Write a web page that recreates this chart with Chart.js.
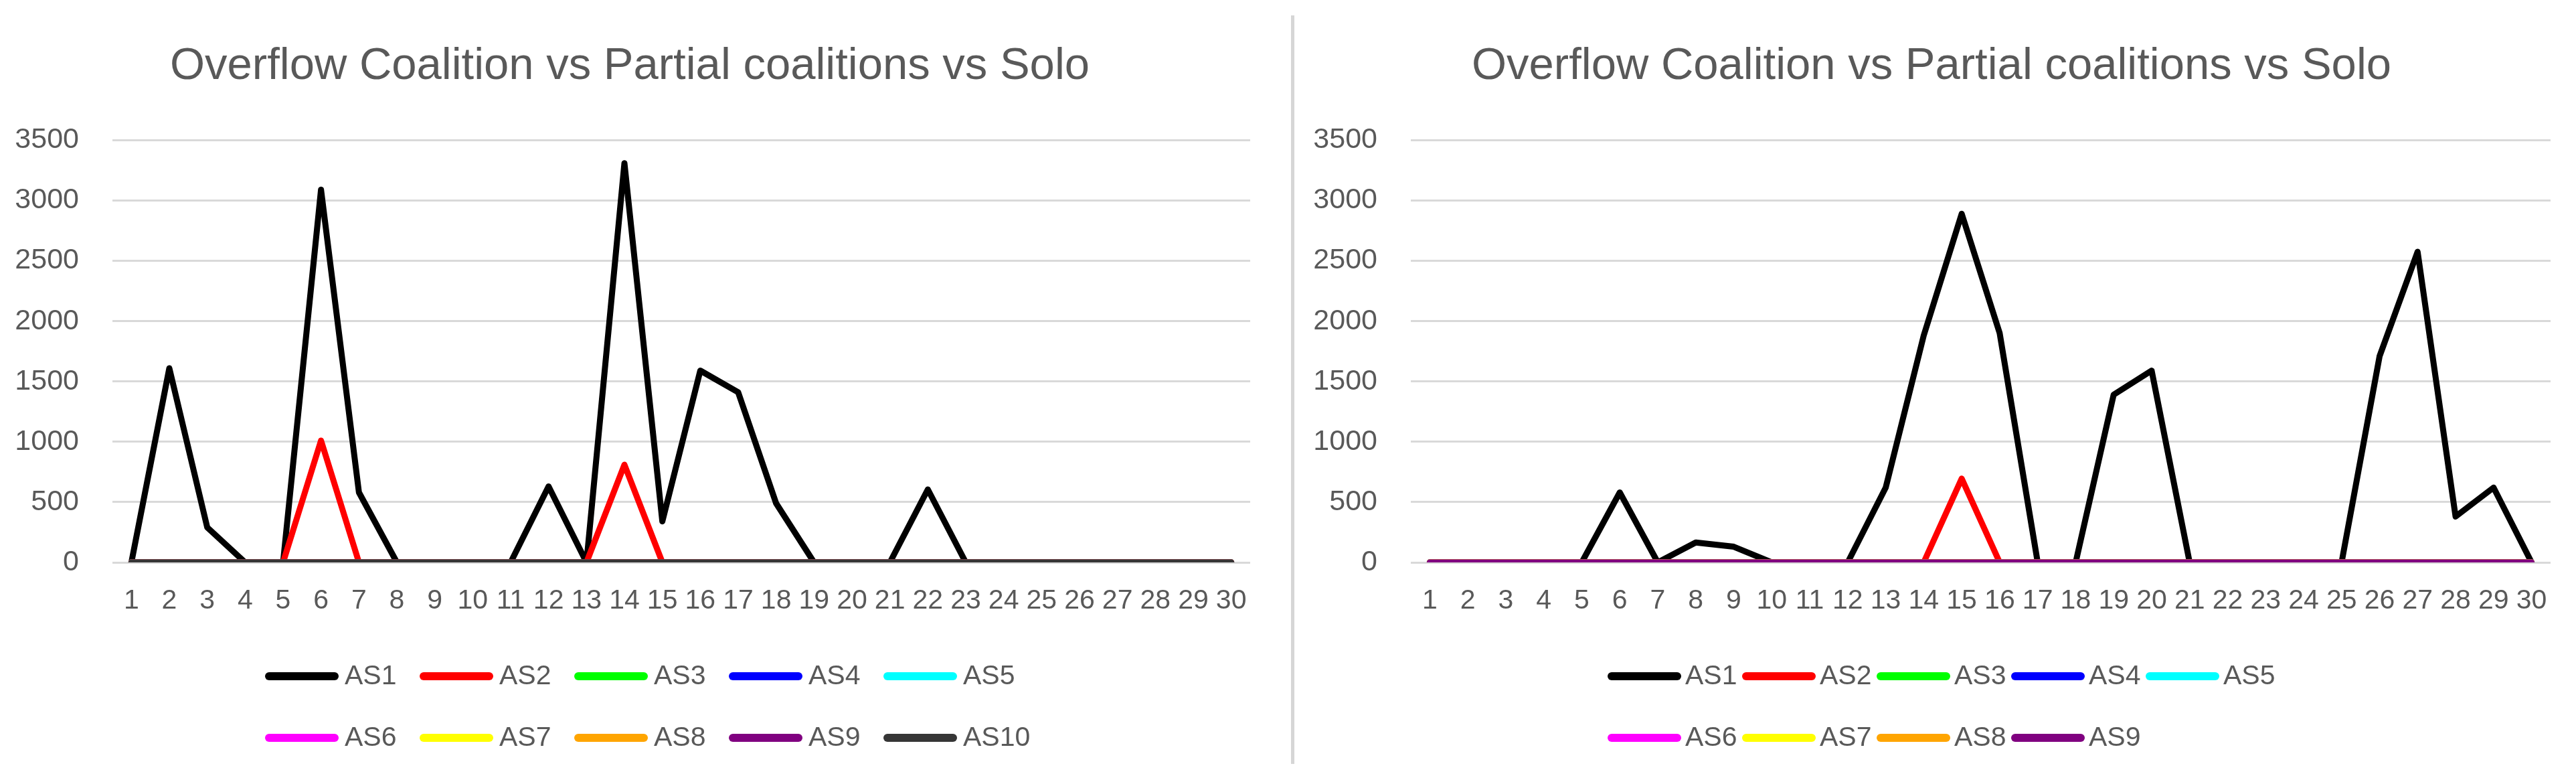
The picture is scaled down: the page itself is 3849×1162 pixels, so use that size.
<!DOCTYPE html>
<html>
<head>
<meta charset="utf-8">
<title>Overflow Coalition vs Partial coalitions vs Solo</title>
<script src="https://cdn.jsdelivr.net/npm/chart.js@4.4.1/dist/chart.umd.min.js"></script>
<style>
    html, body { margin: 0; padding: 0; background: #ffffff; }
    body { width: 3849px; height: 1162px; position: relative; overflow: hidden; }
    canvas { position: absolute; top: 0; }
    #left-chart { left: 0; }
    #right-chart { left: 1937px; }
    .divider { position: absolute; left: 1929px; top: 23px; width: 5px; height: 1118px; background: #d6d6d6; }
</style>
</head>
<body>
<canvas id="left-chart" width="1925" height="1162"></canvas>
<div class="divider"></div>
<canvas id="right-chart" width="1912" height="1162"></canvas>
<script>
// Categories (x axis) and y ticks
const periods = ['1', '2', '3', '4', '5', '6', '7', '8', '9', '10',
    '11', '12', '13', '14', '15', '16', '17', '18', '19', '20',
    '21', '22', '23', '24', '25', '26', '27', '28', '29', '30'];
const yTickValues = [0, 500, 1000, 1500, 2000, 2500, 3000, 3500];

const seriesNames = ['AS1', 'AS2', 'AS3', 'AS4', 'AS5', 'AS6', 'AS7', 'AS8', 'AS9', 'AS10'];
const seriesColors = ['#000000', '#ff0000', '#00ff00', '#0000ff', '#00ffff',
    '#ff00ff', '#ffff00', '#ffa500', '#800080', '#363636'];

const chartTitle = 'Overflow Coalition vs Partial coalitions vs Solo';

// Series that stay flat on the axis all the way across
const zeroSeries = [0, 0, 0, 0, 0, 0, 0, 0, 0, 0, 0, 0, 0, 0, 0, 0, 0, 0, 0, 0, 0, 0, 0, 0, 0, 0, 0, 0, 0, 0];

// Left chart (10 series)
const leftAS1 = [0, 1610, 290, 0, 0, 3090, 580, 0, 0, 0, 0, 630, 0, 3310, 340, 1590, 1410, 490, 0, 0, 0, 605, 0, 0, 0, 0, 0, 0, 0, 0];
const leftAS2 = [0, 0, 0, 0, 0, 1010, 0, 0, 0, 0, 0, 0, 0, 810, 0, 0, 0, 0, 0, 0, 0, 0, 0, 0, 0, 0, 0, 0, 0, 0];

// Right chart (9 series)
const rightAS1 = [0, 0, 0, 0, 0, 580, 0, 165, 130, 0, 0, 0, 620, 1880, 2890, 1900, 0, 0, 1390, 1590, 0, 0, 0, 0, 0, 1710, 2575, 380, 620, 0];
const rightAS2 = [0, 0, 0, 0, 0, 0, 0, 0, 0, 0, 0, 0, 0, 0, 695, 0, 0, 0, 0, 0, 0, 0, 0, 0, 0, 0, 0, 0, 0, 0];

const FONT = "'Liberation Sans', Arial, sans-serif";
const TEXT_COLOR = '#595959';

// Excel-style legend: rows of line swatch + label, second row lined up under the first
const rowLegend = {
    id: 'rowLegend',
    afterDraw(chart, args, opts) {
        const ctx = chart.ctx;
        ctx.save();
        ctx.font = `${opts.fontSize}px ${FONT}`;
        ctx.fillStyle = TEXT_COLOR;
        ctx.textBaseline = 'middle';
        ctx.textAlign = 'left';
        ctx.lineCap = 'round';
        chart.data.datasets.forEach((ds, i) => {
            const row = Math.floor(i / opts.perRow);
            const col = i % opts.perRow;
            const x = opts.startX + col * opts.stride;
            const y = opts.rowY[row];
            const cap = opts.swatchWidth / 2;
            ctx.strokeStyle = ds.borderColor;
            ctx.lineWidth = opts.swatchWidth;
            ctx.beginPath();
            ctx.moveTo(x + cap, y);
            ctx.lineTo(x + opts.swatchLen - cap, y);
            ctx.stroke();
            ctx.fillText(ds.label, x + opts.swatchLen + opts.gap, y + 1);
        });
        ctx.restore();
    }
};

function buildDatasets(seriesData) {
    const n = seriesData.length;
    return seriesData.map((values, i) => ({
        label: seriesNames[i],
        data: values,
        borderColor: seriesColors[i],
        backgroundColor: seriesColors[i],
        borderWidth: 9,
        borderCapStyle: 'round',
        borderJoinStyle: 'round',
        pointRadius: 0,
        pointHoverRadius: 0,
        tension: 0,
        fill: false,
        // later series are painted on top, like Excel
        order: n - i
    }));
}

function makeChart(canvasId, seriesData, layoutCfg, legendCfg) {
    const ctx = document.getElementById(canvasId).getContext('2d');
    return new Chart(ctx, {
        type: 'line',
        data: {
            labels: periods,
            datasets: buildDatasets(seriesData)
        },
        plugins: [rowLegend],
        options: {
            responsive: false,
            animation: false,
            devicePixelRatio: 1,
            events: [],
            layout: {
                padding: { left: layoutCfg.padLeft, right: layoutCfg.padRight, top: 0, bottom: 192 }
            },
            plugins: {
                legend: { display: false },
                tooltip: { enabled: false },
                title: {
                    display: true,
                    text: chartTitle,
                    color: TEXT_COLOR,
                    font: { family: FONT, size: 67, weight: 'normal', lineHeight: 1.2 },
                    padding: { top: 59, bottom: 70 }
                },
                rowLegend: legendCfg
            },
            scales: {
                x: {
                    type: 'category',
                    offset: true,
                    grid: { display: false, drawTicks: false },
                    border: { display: false },
                    ticks: {
                        color: TEXT_COLOR,
                        font: { family: FONT, size: 41 },
                        padding: 33,
                        autoSkip: false,
                        maxRotation: 0,
                        minRotation: 0
                    },
                    afterFit(scale) { scale.height = 130; }
                },
                y: {
                    min: 0,
                    max: 3500,
                    grid: { color: '#d9d9d9', lineWidth: 3, drawTicks: false },
                    border: { display: false },
                    ticks: {
                        color: TEXT_COLOR,
                        font: { family: FONT, size: 43 },
                        padding: 50,
                        callback: (value) => String(value)
                    },
                    afterBuildTicks(scale) {
                        scale.ticks = yTickValues.map(v => ({ value: v }));
                    },
                    afterFit(scale) { scale.width = layoutCfg.axisWidth; }
                }
            }
        }
    });
}

makeChart('left-chart',
    [leftAS1, leftAS2, zeroSeries, zeroSeries, zeroSeries, zeroSeries, zeroSeries, zeroSeries, zeroSeries, zeroSeries],
    { padLeft: 14, padRight: 57, axisWidth: 154 },
    { startX: 396, stride: 231, perRow: 5, rowY: [1010, 1102], swatchLen: 110, swatchWidth: 12, gap: 9, fontSize: 41 }
);

makeChart('right-chart',
    [rightAS1, rightAS2, zeroSeries, zeroSeries, zeroSeries, zeroSeries, zeroSeries, zeroSeries, zeroSeries],
    { padLeft: 24, padRight: 38, axisWidth: 147 },
    { startX: 465, stride: 201, perRow: 5, rowY: [1010, 1102], swatchLen: 110, swatchWidth: 12, gap: 6, fontSize: 41 }
);
</script>
</body>
</html>
